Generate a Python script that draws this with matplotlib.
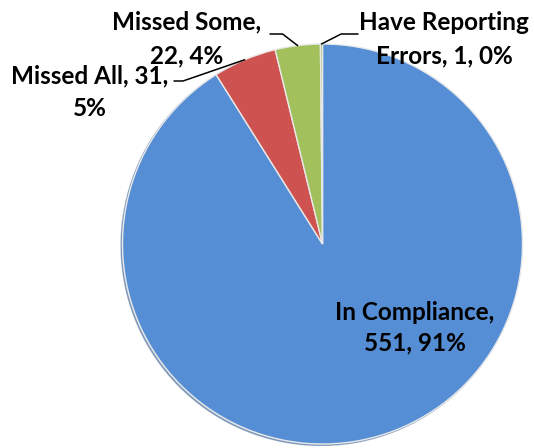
import numpy as np
import matplotlib
matplotlib.use("Agg")
import matplotlib.pyplot as plt

# data
labels = ["In Compliance", "Missed All", "Missed Some", "Have Reporting Errors"]
counts = [551, 31, 22, 1]
label_texts = ["In Compliance,\n551, 91%", "Missed All, 31,\n5%",
               "Missed Some,\n22, 4%", "Have Reporting\nErrors, 1, 0%"]
colors = ["#558ED5", "#CD5250", "#A2C15C", "#9BBB59"]

W, H = 534, 448
fig = plt.figure(figsize=(W / 100, H / 100), dpi=100)
ax = fig.add_axes([0, 0, 1, 1])

# pixel-like coordinates, y flipped so top of image = H
cx, cy, r = 322.5, H - 244, 200
wedges, _ = ax.pie(counts, colors=colors, startangle=90, counterclock=False,
                   center=(cx, cy), radius=r, frame=True,
                   wedgeprops=dict(edgecolor="#E8E8E8", linewidth=1.0),
                   shadow=dict(ox=-1.0, oy=-1.0, shade=0.3))
ax.set_xlim(0, W)
ax.set_ylim(0, H)
ax.set_aspect("equal")
ax.axis("off")

font = dict(family=["Lato", "DejaVu Sans"], fontweight="bold", fontsize=17.5,
            color="black", ha="center", va="center")

# label layout (centre of text block, pixel coords from top, line spacing)
label_pos = [(415, 328, 1.4), (90, 92, 1.5), (187, 39, 1.55), (444, 39, 1.55)]
# leader lines: start point near the text, and slope of the segment to the slice
leader = {1: ((174, 81), 19), 2: ((270, 34), -37.5), 3: ((358, 34), 27)}

for i, w in enumerate(wedges):
    x, y, ls = label_pos[i]
    ax.text(x, H - y, label_texts[i], linespacing=ls, **font)
    if i in leader:
        (sx, sy), ang = leader[i]
        mid = np.deg2rad((w.theta1 + w.theta2) / 2)
        anchor = (cx + r * np.cos(mid), cy + r * np.sin(mid))
        ax.annotate("", xy=anchor, xytext=(sx, H - sy),
                    arrowprops=dict(arrowstyle="-", color="black", lw=1.1,
                                    shrinkA=0, shrinkB=0,
                                    connectionstyle=f"angle,angleA=0,angleB={ang},rad=0"))

fig.savefig("out.png", dpi=100)
